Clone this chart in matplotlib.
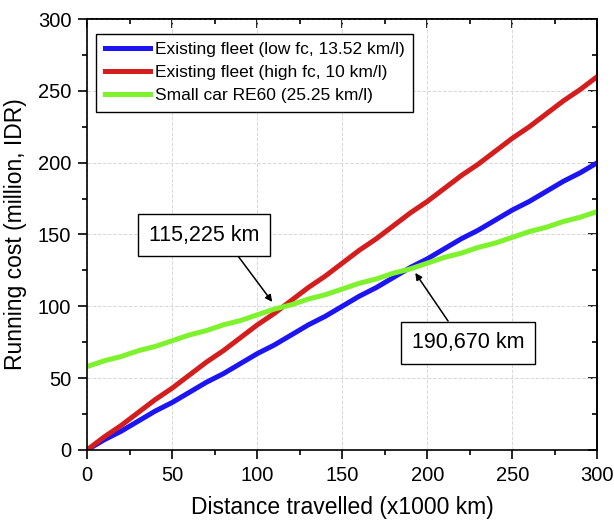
import matplotlib
matplotlib.use("Agg")
import matplotlib.pyplot as plt
from matplotlib.ticker import MultipleLocator

plt.rcParams['font.family'] = ['Liberation Sans', 'DejaVu Sans']

# distance travelled (x1000 km)
dist = [0, 10, 20, 30, 40, 50, 60, 70, 80, 90, 100, 110, 120, 130, 140, 150,
        160, 170, 180, 190, 200, 210, 220, 230, 240, 250, 260, 270, 280, 290, 300]

# running cost (million IDR)
low_fc = [0, 7, 13, 20, 27, 33, 40, 47, 53, 60, 67, 73, 80, 87, 93, 100,
          107, 113, 120, 127, 133, 140, 147, 153, 160, 167, 173, 180, 187, 193, 200]
high_fc = [0, 9, 17, 26, 35, 43, 52, 61, 69, 78, 87, 95, 104, 113, 121, 130,
           139, 147, 156, 165, 173, 182, 191, 199, 208, 217, 225, 234, 243, 251, 260]
small_car = [58, 62, 65, 69, 72, 76, 80, 83, 87, 90, 94, 98, 101, 105, 108, 112,
             116, 119, 123, 126, 130, 134, 137, 141, 144, 148, 152, 155, 159, 162, 166]

fig = plt.figure(figsize=(6.14, 5.28), dpi=100)
ax = fig.add_axes([0.142, 0.148, 0.831, 0.816])

ax.plot(dist, low_fc, color='#1c14f2', lw=3.6, label='Existing fleet (low fc, 13.52 km/l)')
ax.plot(dist, high_fc, color='#d41e1e', lw=3.6, label='Existing fleet (high fc, 10 km/l)')
ax.plot(dist, small_car, color='#7ef22c', lw=3.6, label='Small car RE60 (25.25 km/l)')

ax.set_xlim(0, 300)
ax.set_ylim(0, 300)
ax.xaxis.set_major_locator(MultipleLocator(50))
ax.xaxis.set_minor_locator(MultipleLocator(25))
ax.yaxis.set_major_locator(MultipleLocator(50))
ax.yaxis.set_minor_locator(MultipleLocator(25))
ax.grid(True, which='major', color='#d8d8d8', ls='--', lw=0.7)

ax.tick_params(which='both', direction='out', labelsize=14.5, width=1.2, pad=5)
ax.tick_params(which='major', length=6.5)
ax.tick_params(which='minor', length=3.5)
ax.tick_params(which='both', top=False, right=False)
sec_x = ax.secondary_xaxis('top')
sec_x.xaxis.set_major_locator(MultipleLocator(50))
sec_x.xaxis.set_minor_locator(MultipleLocator(25))
sec_x.tick_params(which='both', direction='in', labeltop=False, width=1.2)
sec_x.tick_params(which='major', length=6.5)
sec_x.tick_params(which='minor', length=3.5)
sec_y = ax.secondary_yaxis('right')
sec_y.yaxis.set_major_locator(MultipleLocator(50))
sec_y.yaxis.set_minor_locator(MultipleLocator(25))
sec_y.tick_params(which='both', direction='in', labelright=False, width=1.2)
sec_y.tick_params(which='major', length=6.5)
sec_y.tick_params(which='minor', length=3.5)
for s in ax.spines.values():
    s.set_linewidth(1.2)
sec_x.spines['top'].set_linewidth(1.2)
sec_y.spines['right'].set_linewidth(1.2)

ax.set_xlabel('Distance travelled (x1000 km)', fontsize=16.5, labelpad=8)
ax.set_ylabel('Running cost (million, IDR)', fontsize=16.5, labelpad=8)

leg = ax.legend(loc='upper left', bbox_to_anchor=(0.018, 0.966), fontsize=12.5,
                frameon=True, fancybox=False, edgecolor='black', framealpha=1,
                handlelength=2.6, handletextpad=0.25, borderpad=0.5,
                labelspacing=0.45, borderaxespad=0)
leg.get_frame().set_linewidth(1.0)

ax.annotate('115,225 km', xy=(108.8, 103), xytext=(68.5, 149.6), fontsize=15.5,
            ha='center', va='center',
            bbox=dict(boxstyle='square,pad=0.5', fc='white', ec='black', lw=1),
            arrowprops=dict(arrowstyle='-|>', color='black', lw=1.1,
                            relpos=(0.74, 0.0), shrinkA=0, shrinkB=0,
                            mutation_scale=10))
ax.annotate('190,670 km', xy=(192.9, 123.2), xytext=(224, 74.5), fontsize=15.5,
            ha='center', va='center',
            bbox=dict(boxstyle='square,pad=0.5', fc='white', ec='black', lw=1),
            arrowprops=dict(arrowstyle='-|>', color='black', lw=1.1,
                            relpos=(0.39, 1.0), shrinkA=0, shrinkB=0,
                            mutation_scale=10))

fig.savefig('out.png', dpi=100)
